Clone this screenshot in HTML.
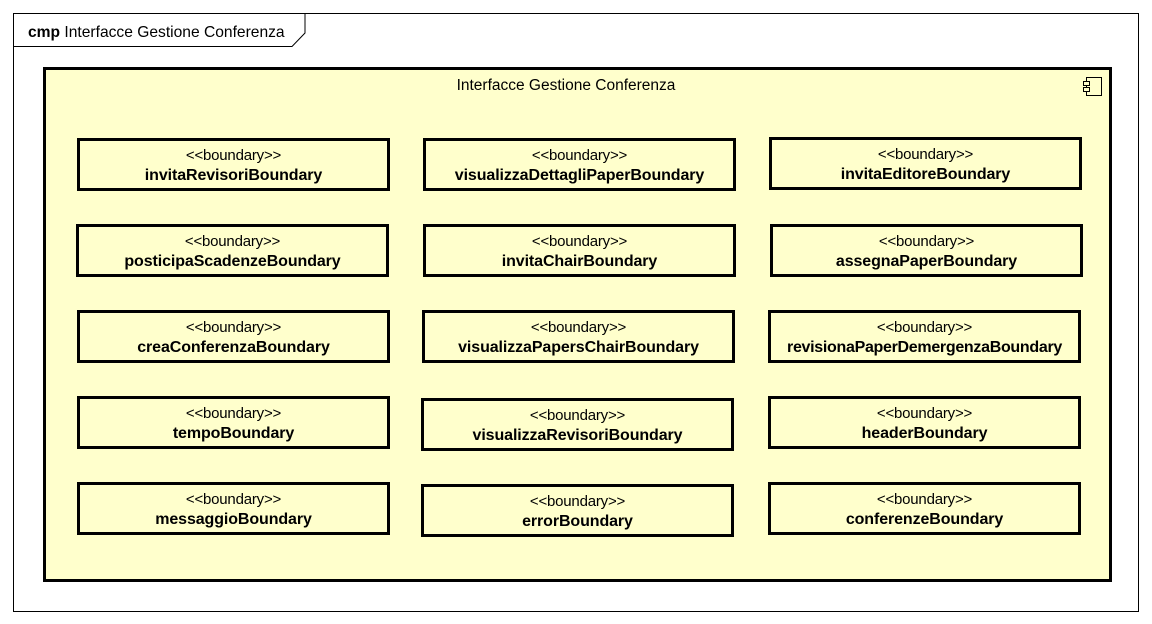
<!DOCTYPE html>
<html><head><meta charset="utf-8"><style>
body{margin:0;width:1152px;height:624px;background:#fff;position:relative;overflow:hidden;font-family:"Liberation Sans",Arial,sans-serif;}
.b{position:absolute;box-sizing:border-box;border:3px solid #000;background:#ffffcc;text-align:center;color:#000;width:313px;height:53px;}
.b .s{font-size:15px;line-height:16px;margin-top:7px;letter-spacing:-0.2px;}
.b .n{font-size:16px;font-weight:bold;line-height:18px;margin-top:3px;letter-spacing:-0.1px;}
</style></head><body>
<svg width="1152" height="624" style="position:absolute;left:0;top:0">
<rect x="13.5" y="13.5" width="1125" height="598" fill="#fff" stroke="#000" stroke-width="1"/>
<polyline points="13.5,46.5 292,46.5 305,33 305,13.5" fill="none" stroke="#000" stroke-width="1"/>
<rect x="44.5" y="68.5" width="1066" height="512" fill="#ffffcc" stroke="#000" stroke-width="3"/>
<rect x="1086.5" y="77.5" width="15" height="18" fill="#ffffcc" stroke="#000" stroke-width="1"/>
<rect x="1083.5" y="81.5" width="6" height="4" fill="#ffffcc" stroke="#000" stroke-width="1"/>
<rect x="1083.5" y="87.5" width="6" height="4" fill="#ffffcc" stroke="#000" stroke-width="1"/>
<text x="28" y="37" font-family="Liberation Sans, Arial, sans-serif" font-size="15.6"><tspan font-weight="bold">cmp</tspan> Interfacce Gestione Conferenza</text>
<text x="566" y="90" text-anchor="middle" font-family="Liberation Sans, Arial, sans-serif" font-size="15.5">Interfacce Gestione Conferenza</text>
</svg>
<div class="b" style="left:77px;top:138px"><div class="s">&lt;&lt;boundary&gt;&gt;</div><div class="n">invitaRevisoriBoundary</div></div>
<div class="b" style="left:423px;top:138px"><div class="s">&lt;&lt;boundary&gt;&gt;</div><div class="n">visualizzaDettagliPaperBoundary</div></div>
<div class="b" style="left:769px;top:137px"><div class="s">&lt;&lt;boundary&gt;&gt;</div><div class="n">invitaEditoreBoundary</div></div>
<div class="b" style="left:76px;top:224px"><div class="s">&lt;&lt;boundary&gt;&gt;</div><div class="n">posticipaScadenzeBoundary</div></div>
<div class="b" style="left:423px;top:224px"><div class="s">&lt;&lt;boundary&gt;&gt;</div><div class="n">invitaChairBoundary</div></div>
<div class="b" style="left:770px;top:224px"><div class="s">&lt;&lt;boundary&gt;&gt;</div><div class="n">assegnaPaperBoundary</div></div>
<div class="b" style="left:77px;top:310px"><div class="s">&lt;&lt;boundary&gt;&gt;</div><div class="n">creaConferenzaBoundary</div></div>
<div class="b" style="left:422px;top:310px"><div class="s">&lt;&lt;boundary&gt;&gt;</div><div class="n">visualizzaPapersChairBoundary</div></div>
<div class="b" style="left:768px;top:310px"><div class="s">&lt;&lt;boundary&gt;&gt;</div><div class="n" style="letter-spacing:-0.3px">revisionaPaperDemergenzaBoundary</div></div>
<div class="b" style="left:77px;top:396px"><div class="s">&lt;&lt;boundary&gt;&gt;</div><div class="n">tempoBoundary</div></div>
<div class="b" style="left:421px;top:398px"><div class="s">&lt;&lt;boundary&gt;&gt;</div><div class="n">visualizzaRevisoriBoundary</div></div>
<div class="b" style="left:768px;top:396px"><div class="s">&lt;&lt;boundary&gt;&gt;</div><div class="n">headerBoundary</div></div>
<div class="b" style="left:77px;top:482px"><div class="s">&lt;&lt;boundary&gt;&gt;</div><div class="n">messaggioBoundary</div></div>
<div class="b" style="left:421px;top:484px"><div class="s">&lt;&lt;boundary&gt;&gt;</div><div class="n">errorBoundary</div></div>
<div class="b" style="left:768px;top:482px"><div class="s">&lt;&lt;boundary&gt;&gt;</div><div class="n">conferenzeBoundary</div></div>
</body></html>
